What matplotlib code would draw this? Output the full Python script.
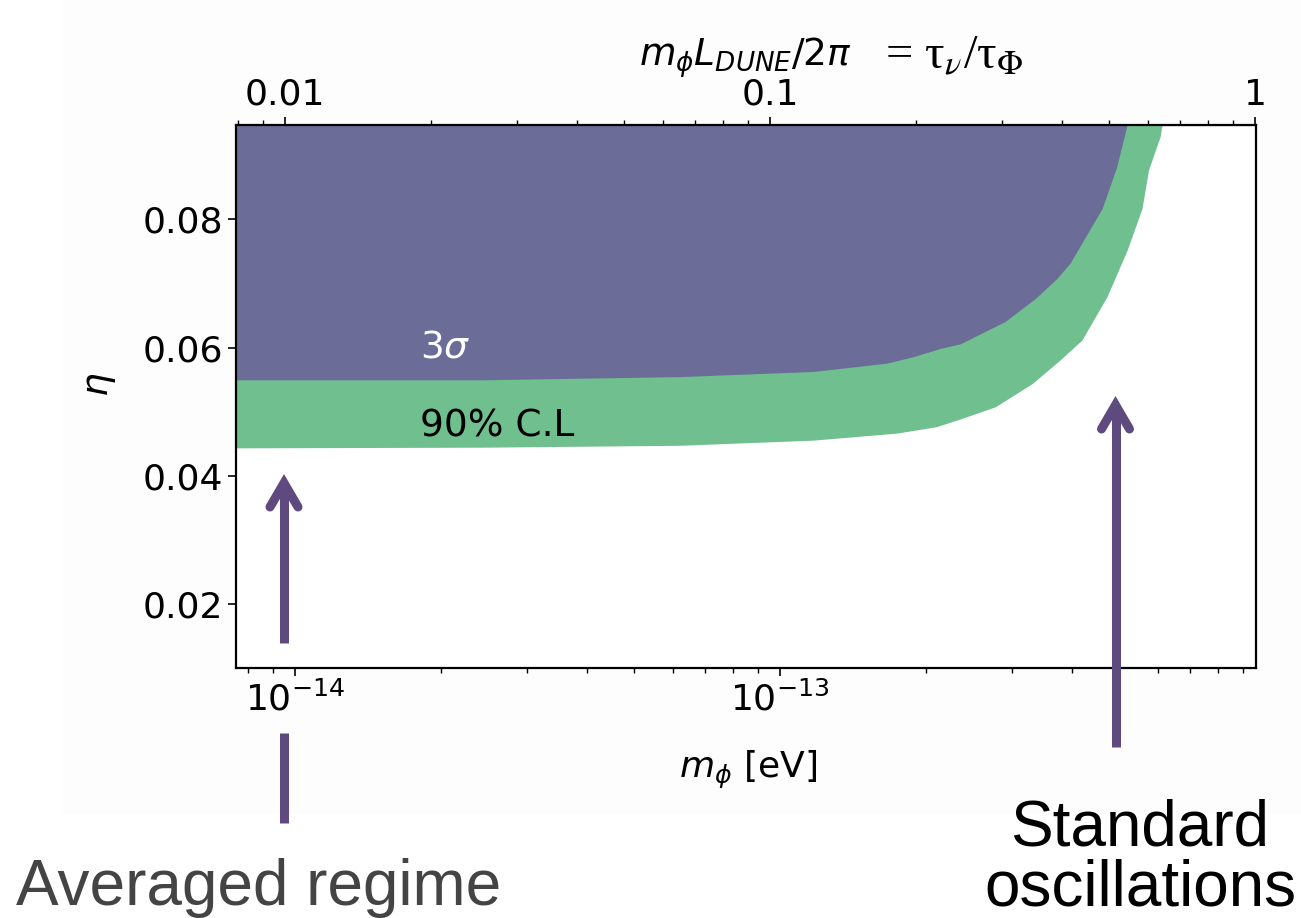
import numpy as np
import matplotlib
matplotlib.use("Agg")
import matplotlib.pyplot as plt
from matplotlib.lines import Line2D
from matplotlib.patches import Rectangle

# 3 sigma exclusion boundary: scalar mass [eV] vs eta
m_3sigma = [7.55e-15, 2.41e-14, 6.22e-14, 1.169e-13, 1.66e-13, 1.88e-13,
            2.138e-13, 2.35e-13, 2.91e-13, 3.36e-13, 3.72e-13, 3.96e-13,
            4.61e-13, 4.94e-13, 5.18e-13, 5.25e-13]
eta_3sigma = [0.0550, 0.0550, 0.0555, 0.0563, 0.0576, 0.0586,
              0.0599, 0.0606, 0.0641, 0.0677, 0.0708, 0.0732,
              0.0817, 0.0882, 0.0945, 0.0960]

# 90% C.L. exclusion boundary
m_90cl = [7.55e-15, 2.41e-14, 6.22e-14, 1.169e-13, 1.74e-13, 2.10e-13,
          2.35e-13, 2.776e-13, 3.304e-13, 3.777e-13, 4.188e-13, 4.72e-13,
          5.19e-13, 5.57e-13, 5.745e-13, 6.07e-13, 6.12e-13, 6.14e-13]
eta_90cl = [0.0444, 0.0445, 0.0448, 0.0456, 0.0467, 0.0477,
            0.0489, 0.0508, 0.0544, 0.0581, 0.0612, 0.0680,
            0.0752, 0.0817, 0.0877, 0.0929, 0.0945, 0.0960]

y_ticks = [0.02, 0.04, 0.06, 0.08]
top_ticks = [0.01, 0.1, 1]
top_tick_labels = ["0.01", "0.1", "1"]

# m L_DUNE / (2 pi hbar c), L = 1300 km
L_DUNE = 1.3e6          # m
HBARC = 1.973e-7        # eV m
K = L_DUNE / (HBARC * 2 * np.pi)

PURPLE = "#6b6c98"
GREEN = "#70bf8f"
ARROW = "#5e4a7e"

W, H = 1301, 918
fig = plt.figure(figsize=(W / 100, H / 100), dpi=100)


def fx(px):
    return px / W


def fy(py):
    return 1 - py / H


# faint backdrop behind the plot
fig.add_artist(Rectangle((fx(63), fy(814)), fx(1301 - 63), 814 / H,
                         transform=fig.transFigure, color="#fdfdfd",
                         zorder=-10, lw=0))

ax = fig.add_axes([fx(236), fy(668), (1256 - 236) / W, (668 - 125) / H])
ax.set_xscale("log")
ax.set_xlim(7.55e-15, 9.57e-13)
ax.set_ylim(0.0101, 0.0947)

top = 0.1
ax.fill_between(m_90cl, eta_90cl, top, color=GREEN, lw=0, zorder=1)
ax.fill_between(m_3sigma, eta_3sigma, top, color=PURPLE, lw=0, zorder=2)

ax.set_yticks(y_ticks)
ax.set_yticklabels([f"{v:.2f}" for v in y_ticks])
ax.tick_params(axis="both", which="major", labelsize=26, length=6, width=1.2)
ax.tick_params(axis="both", which="minor", length=3.5, width=1.0)
for s in ax.spines.values():
    s.set_linewidth(1.6)
    s.set_zorder(5)

sec = ax.secondary_xaxis("top", functions=(lambda x: x * K, lambda x: x / K))
sec.set_xticks(top_ticks)
sec.set_xticklabels(top_tick_labels)
sec.tick_params(axis="x", which="major", labelsize=26, length=6, width=1.2)
sec.tick_params(axis="x", which="minor", length=3.5, width=1.0)

ax.text(1.81e-14, 0.0600, r"3$\sigma$", color="white", fontsize=27,
        ha="left", va="center", zorder=4)
ax.text(1.81e-14, 0.0478, "90% C.L", color="black", fontsize=27,
        ha="left", va="center", zorder=4)

# axis titles
fig.text(fx(100), fy(385), r"$\eta$", fontsize=27, rotation=90,
         ha="center", va="center")
fig.text(fx(748), fy(770), r"$m_\phi$ [eV]", fontsize=26,
         ha="center", va="center")
fig.text(fx(852), fy(58), r"$m_\phi L_{DUNE}/2\pi$", fontsize=27,
         ha="right", va="center")
fig.text(fx(885), fy(56), r"= τ$_{\nu}$/τ$_{\Phi}$", fontsize=35,
         family="Liberation Serif", math_fontfamily="stix",
         ha="left", va="center")

# regime annotations
fig.text(fx(16), fy(905), "Averaged regime", fontsize=46,
         family="Liberation Sans", color="#444444", ha="left", va="baseline")
fig.text(fx(1140), fy(905), "Standard\noscillations", fontsize=46,
         family="Liberation Sans", color="black", ha="center", va="baseline",
         linespacing=1.0)


def shaft(x, y0, y1):
    fig.add_artist(Line2D([fx(x), fx(x)], [fy(y0), fy(y1)],
                          transform=fig.transFigure, color=ARROW, lw=6.5,
                          solid_capstyle="butt", zorder=6))


def head(x, y):
    fig.add_artist(Line2D([fx(x - 14), fx(x), fx(x + 14)],
                          [fy(y + 24), fy(y), fy(y + 24)],
                          transform=fig.transFigure, color=ARROW, lw=6.5,
                          solid_capstyle="round", solid_joinstyle="miter",
                          zorder=6))


shaft(284, 484, 643)
head(284, 483)
shaft(284, 733, 823)
shaft(1115.5, 406, 747)
head(1115.5, 405)

fig.savefig("out.png", dpi=100)
